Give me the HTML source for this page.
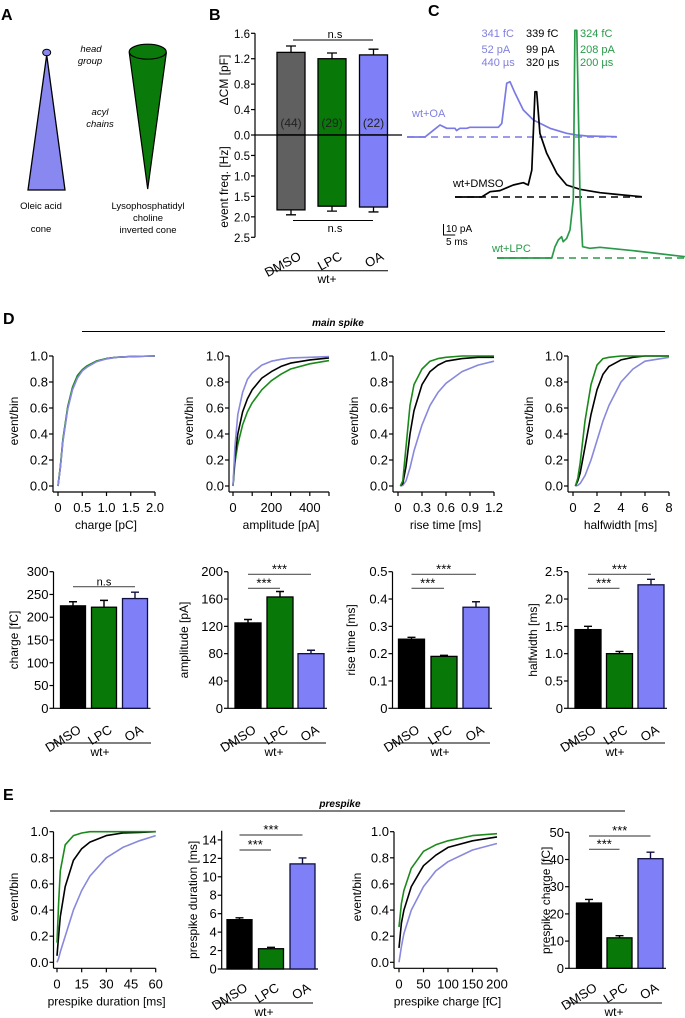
<!DOCTYPE html>
<html><head><meta charset="utf-8">
<style>
html,body{margin:0;padding:0;background:#fff;}
svg{display:block;font-family:"Liberation Sans",Arial,sans-serif;}
</style></head>
<body>
<svg id="fig" width="685" height="1018" viewBox="0 0 685 1018" xmlns="http://www.w3.org/2000/svg">
<rect x="0" y="0" width="685" height="1018" fill="#fff"/>
<!-- Panel A -->
<g>
<text x="1" y="20" font-size="16" font-weight="bold">A</text>
<polygon points="46.7,55 28,190 65,190" fill="#8888f0" stroke="#000" stroke-width="1.3"/>
<ellipse cx="46.7" cy="52.5" rx="4" ry="3.3" fill="#8888f0" stroke="#000" stroke-width="1"/>
<polygon points="129.3,53 166.3,53 147.7,189" fill="#0a7a0a" stroke="#000" stroke-width="1.2"/>
<ellipse cx="147.7" cy="51.7" rx="18.5" ry="7.5" fill="#0a7a0a" stroke="#000" stroke-width="1.2"/>
<g font-size="9.5" font-style="italic" text-anchor="middle">
<text x="91" y="52">head</text>
<text x="90" y="64">group</text>
<text x="100" y="115">acyl</text>
<text x="100" y="127">chains</text>
</g>
<g font-size="9.5" text-anchor="middle">
<text x="41" y="209">Oleic acid</text>
<text x="41" y="232">cone</text>
<text x="148" y="209">Lysophosphatidyl</text>
<text x="148" y="221">choline</text>
<text x="148" y="233">inverted cone</text>
</g>
</g>
<!-- Panel C static text -->
<g>
<text x="428" y="16" font-size="16" font-weight="bold">C</text>
<g font-size="11">
<text x="481.5" y="37" fill="#8080e0">341 fC</text>
<text x="481.5" y="53" fill="#8080e0">52 pA</text>
<text x="481.5" y="66" fill="#8080e0">440 µs</text>
<text x="526" y="37" fill="#000">339 fC</text>
<text x="526" y="53" fill="#000">99 pA</text>
<text x="526" y="66" fill="#000">320 µs</text>
<text x="580" y="37" fill="#2a9a4a">324 fC</text>
<text x="580" y="53" fill="#2a9a4a">208 pA</text>
<text x="580" y="66" fill="#2a9a4a">200 µs</text>
<text x="412" y="117" fill="#8080e0">wt+OA</text>
<text x="453" y="187" fill="#000">wt+DMSO</text>
<text x="492" y="252" fill="#2a9a4a">wt+LPC</text>
<text x="446" y="232" font-size="10">10 pA</text>
<text x="446" y="245" font-size="10">5 ms</text>
</g>
<path d="M443.5,224 L443.5,235 L455.2,235" fill="none" stroke="#000" stroke-width="1"/>
</g>
<!-- D / E headers -->
<text x="3" y="324" font-size="16" font-weight="bold">D</text>
<text x="338" y="326" font-size="10" font-weight="bold" font-style="italic" text-anchor="middle">main spike</text>
<line x1="82" y1="331.5" x2="665" y2="331.5" stroke="#000" stroke-width="1"/>
<text x="3" y="800" font-size="16" font-weight="bold">E</text>
<text x="340" y="807" font-size="10" font-weight="bold" font-style="italic" text-anchor="middle">prespike</text>
<line x1="50" y1="811" x2="625" y2="811" stroke="#000" stroke-width="1"/>
</svg>
<script>
// ---------- DATA ----------
const groups = ['DMSO','LPC','OA'];
// Panel B
const cmMean = [1.30, 1.20, 1.26];
const cmErr = [0.10, 0.09, 0.09];
const freqMean = [1.83, 1.74, 1.76];
const freqErr = [0.12, 0.12, 0.12];
const cellCounts = ['(44)','(29)','(22)'];
const cmTicks = [0, 0.4, 0.8, 1.2, 1.6];
const cmTickLabels = ['0.0','0.4','0.8','1.2','1.6'];
const freqTicks = [0.5, 1.0, 1.5, 2.0, 2.5];
const freqTickLabels = ['0.5','1.0','1.5','2.0','2.5'];
// Panel C traces (t in ms, I in pA)
const oaT = [0,7.7,10.5,14.1,17,20.5,21.2,22.6,25.5,26.9,39,40.5,42.6,44,46.2,49.7,54,61.1,68.2,72.5,76.8,89.6];
const oaI = [0,0,4.8,10.9,7.9,7.9,5.8,7.9,7.9,8.8,8.8,12.4,48.8,50.3,39.7,24.5,15.5,7.9,3.4,1.8,0.9,0.3];
const dmsoT = [0,11.4,15,19.2,24.9,29.2,31.3,32.8,34.2,34.9,36.3,39.2,43.5,47.7,53.4,62,69.1,79.8];
const dmsoI = [0,0,4.8,5.8,10.9,13,10.9,24.5,95.7,95.7,57.9,39.7,21.5,10.9,7,3.9,2.4,0.3];
const lpcT = [0,23.4,24.8,26.2,27.6,28.3,29.8,31.2,32.6,33.3,34.1,35.5,36.6,39.7,44,58.3,80.3];
const lpcI = [0,0,10.3,16.4,19.4,14.8,17.9,25.5,52.7,207,207,52.7,10.3,8.8,9.7,6.6,1.2];
// Panel D cumulative distributions
const chargeX = [0,0.05,0.1,0.2,0.3,0.4,0.5,0.6,0.8,1.0,1.2,1.5,2.0];
const chargeDMSO = [0,0.15,0.35,0.6,0.75,0.84,0.89,0.92,0.96,0.98,0.99,0.995,1.0];
const chargeLPC = [0,0.15,0.36,0.61,0.76,0.85,0.895,0.925,0.962,0.981,0.99,0.996,1.0];
const chargeOA = [0,0.14,0.34,0.59,0.74,0.83,0.885,0.915,0.957,0.978,0.99,0.995,1.0];
const ampX = [0,10,25,50,75,100,150,200,250,300,400,500];
const ampDMSO = [0,0.22,0.4,0.57,0.67,0.74,0.83,0.88,0.92,0.945,0.97,0.985];
const ampLPC = [0,0.18,0.32,0.47,0.57,0.64,0.74,0.81,0.86,0.9,0.94,0.965];
const ampOA = [0,0.3,0.55,0.72,0.82,0.87,0.93,0.96,0.975,0.985,0.99,0.995];
const riseX = [0.03,0.06,0.1,0.15,0.2,0.3,0.4,0.5,0.6,0.8,1.0,1.2];
const riseDMSO = [0,0.02,0.15,0.4,0.58,0.78,0.88,0.93,0.96,0.98,0.99,0.99];
const riseLPC = [0,0.04,0.3,0.62,0.78,0.9,0.96,0.98,0.99,1,1,1];
const riseOA = [0,0.005,0.04,0.14,0.27,0.47,0.62,0.72,0.79,0.88,0.93,0.96];
const hwX = [0.2,0.4,0.6,1,1.5,2,2.5,3,4,5,6,8];
const hwDMSO = [0,0.04,0.1,0.3,0.55,0.74,0.86,0.92,0.97,0.99,1,1];
const hwLPC = [0,0.06,0.18,0.5,0.78,0.93,0.98,0.99,1,1,1,1];
const hwOA = [0,0.005,0.02,0.08,0.2,0.35,0.5,0.62,0.8,0.9,0.96,0.99];
// Panel D bars
const chargeMean = [225,222,241];
const chargeSem = [9,15,14];
const ampMean = [125,163,80];
const ampSem = [5,8,5];
const riseMean = [0.253,0.19,0.37];
const riseSem = [0.007,0.004,0.02];
const hwMean = [1.44,1.0,2.26];
const hwSem = [0.06,0.04,0.1];
// Panel E
const durX = [0,1,2,5,10,15,20,30,40,50,60];
const durDMSO = [0.05,0.2,0.35,0.58,0.78,0.87,0.92,0.97,0.99,0.995,1];
const durLPC = [0.15,0.45,0.7,0.9,0.97,0.99,1,1,1,1,1];
const durOA = [0,0.03,0.08,0.2,0.4,0.55,0.66,0.8,0.88,0.93,0.97];
const pchX = [0,5,10,25,50,75,100,150,200];
const pchDMSO = [0.11,0.3,0.4,0.58,0.74,0.82,0.88,0.93,0.96];
const pchLPC = [0.27,0.45,0.55,0.72,0.85,0.9,0.93,0.97,0.985];
const pchOA = [0,0.12,0.22,0.4,0.58,0.7,0.77,0.86,0.91];
const durMean = [5.35,2.2,11.4];
const durSem = [0.2,0.15,0.65];
const pchMean = [24,11.2,40.3];
const pchSem = [1.3,0.8,2.4];

// ---------- HELPERS ----------
const NS = 'http://www.w3.org/2000/svg';
const svg = document.getElementById('fig');
function mk(tag, attrs, parent){
  const e = document.createElementNS(NS, tag);
  for (const k in attrs) e.setAttribute(k, attrs[k]);
  (parent || svg).appendChild(e);
  return e;
}
const CDF_COL = {DMSO:'#000', LPC:'#1a8a1a', OA:'#8888dd'};
const BAR_FILL = ['#000','#087808','#7f7ff7'];
const BAR_STROKE = ['#000','#000','#101040'];

function drawCdf(name, axX, x0, x1, xmin, xmax, yTop, yBot, xTicks, xLabels, xTitle, yTitleX, series){
  const g = mk('g', {});
  
  
  const sx = v => x0 + (v - xmin) / (xmax - xmin) * (x1 - x0);
  const sy = v => yBot - v * (yBot - yTop);
  const axY = yBot + 6;
  const ya = mk('line', {x1:axX, y1:yTop, x2:axX, y2:axY, stroke:'#000', 'stroke-width':1.2}, g);
  
  
  const xa = mk('line', {x1:axX, y1:axY, x2:x1, y2:axY, stroke:'#000', 'stroke-width':1.2}, g);
  
  
  [0,0.2,0.4,0.6,0.8,1.0].forEach(v => {
    const t = mk('line', {x1:axX-4, y1:sy(v), x2:axX, y2:sy(v), stroke:'#000', 'stroke-width':1.2}, g);
    
    
    const l = mk('text', {x:axX-5, y:sy(v)+4.5, 'font-size':13, 'text-anchor':'end'}, g);
    
    
    l.textContent = v.toFixed(1);
  });
  xTicks.forEach(v => {
    const t = mk('line', {x1:sx(v), y1:axY, x2:sx(v), y2:axY+4, stroke:'#000', 'stroke-width':1.2}, g);
    
    
  });
  xLabels.forEach(p => {
    const l = mk('text', {x:sx(p[0]), y:axY+20, 'font-size':13, 'text-anchor':'middle'}, g);
    
    
    l.textContent = p[1];
  });
  const xt = mk('text', {x:(axX+x1)/2+2, y:axY+37, 'font-size':12, 'text-anchor':'middle'}, g);
  
  
  xt.textContent = xTitle;
  const ym = (yTop + yBot) / 2;
  const yt = mk('text', {x:yTitleX, y:ym, 'font-size':12, 'text-anchor':'middle', transform:'rotate(-90 '+yTitleX+' '+ym+')', dy:'4'}, g);
  
  
  yt.textContent = 'event/bin';
  series.forEach(s => {
    const d = s.xs.map((v,i) => (i ? 'L' : 'M') + sx(v).toFixed(1) + ',' + sy(s.ys[i]).toFixed(1)).join(' ');
    const p = mk('path', {d:d, fill:'none', stroke:CDF_COL[s.key], 'stroke-width':1.6, 'stroke-linejoin':'round'}, g);
    
    
  });
}

function drawBars(name, axX, yTop0, yZero, vmax, ticks, tickLabels, centers, bw, means, sems, yTitle, yTitleX, sig, catY, wtLine, wtY){
  const g = mk('g', {});
  
  
  const sy = v => yZero - v / vmax * (yZero - yTop0);
  const ya = mk('line', {x1:axX, y1:sy(vmax), x2:axX, y2:yZero, stroke:'#000', 'stroke-width':1.2}, g);
  
  
  const xa = mk('line', {x1:axX, y1:yZero, x2:centers[2]+bw/2+3, y2:yZero, stroke:'#000', 'stroke-width':1.2}, g);
  
  
  ticks.forEach((v,i) => {
    const t = mk('line', {x1:axX-4, y1:sy(v), x2:axX, y2:sy(v), stroke:'#000', 'stroke-width':1.2}, g);
    
    
    if (tickLabels[i] !== '') {
      const l = mk('text', {x:axX-5, y:sy(v)+4.5, 'font-size':13, 'text-anchor':'end'}, g);
      
      
      l.textContent = tickLabels[i];
    }
  });
  means.forEach((m,i) => {
    const c = centers[i];
    const e = mk('path', {d:'M'+c+','+sy(m)+' V'+sy(m+sems[i])+' M'+(c-4)+','+sy(m+sems[i])+' H'+(c+4), stroke:BAR_STROKE[i], 'stroke-width':1.4, fill:'none'}, g);
    
    
    const r = mk('rect', {x:c-bw/2, y:sy(m), width:bw, height:yZero-sy(m), fill:BAR_FILL[i], stroke:BAR_STROKE[i], 'stroke-width':1.3}, g);
    
    
    const l = mk('text', {x:c+9, y:catY, 'font-size':13, 'text-anchor':'end', transform:'rotate(-32 '+(c+9)+' '+catY+')'}, g);
    
    
    l.textContent = groups[i];
  });
  sig.forEach(s => {
    const a = centers[s[0]], b = centers[s[1]];
    const ln = mk('line', {x1:a, y1:s[2], x2:b, y2:s[2], stroke:'#555', 'stroke-width':1.2}, g);
    
    
    const t = mk('text', {x:(a+b)/2, y:s[2]-1, 'font-size':s[3]==='n.s'?11:13, 'text-anchor':'middle'}, g);
    
    
    t.textContent = s[3];
  });
  const wl = mk('line', {x1:wtLine[0], y1:wtY, x2:wtLine[1], y2:wtY, stroke:'#000', 'stroke-width':1}, g);
  
  
  const wt = mk('text', {x:(wtLine[0]+wtLine[1])/2, y:wtY+13, 'font-size':12, 'text-anchor':'middle'}, g);
  
  
  wt.textContent = 'wt+';
  const ym = (yTop0 + yZero) / 2;
  const yt = mk('text', {x:yTitleX, y:ym, dy:'4', 'font-size':12, 'text-anchor':'middle', transform:'rotate(-90 '+yTitleX+' '+ym+')'}, g);
  
  
  yt.textContent = yTitle;
}

// ---------- PANEL B ----------
(function(){
  const g = mk('g', {});
  
  
  const lab = mk('text', {x:209, y:20, 'font-size':16, 'font-weight':'bold'}, g);
  
  
  lab.textContent = 'B';
  const axX = 255, y0 = 135;
  const syU = v => y0 - v / 1.6 * (135 - 33.3);
  const syD = v => y0 + v / 2.5 * (237.3 - 135);
  const centers = [291, 332, 373.5];
  const bw = 28;
  const fills = ['#606060','#087808','#7f7ff7'];
  const ya = mk('line', {x1:axX, y1:33.3, x2:axX, y2:237.3, stroke:'#000', 'stroke-width':1.2}, g);
  
  
  cmTicks.forEach((v,i) => {
    const t = mk('line', {x1:axX-4, y1:syU(v), x2:axX, y2:syU(v), stroke:'#000', 'stroke-width':1.2}, g);
    
    
    const l = mk('text', {x:axX-5, y:syU(v)+4.5, 'font-size':11.5, 'text-anchor':'end'}, g);
    
    
    l.textContent = cmTickLabels[i];
  });
  freqTicks.forEach((v,i) => {
    const t = mk('line', {x1:axX-4, y1:syD(v), x2:axX, y2:syD(v), stroke:'#000', 'stroke-width':1.2}, g);
    
    
    const l = mk('text', {x:axX-5, y:syD(v)+4.5, 'font-size':11.5, 'text-anchor':'end'}, g);
    
    
    l.textContent = freqTickLabels[i];
  });
  groups.forEach((gname,i) => {
    const c = centers[i];
    const e1 = mk('path', {d:'M'+c+','+syU(cmMean[i])+' V'+syU(cmMean[i]+cmErr[i])+' M'+(c-5)+','+syU(cmMean[i]+cmErr[i])+' H'+(c+5), stroke:'#000', 'stroke-width':1.3, fill:'none'}, g);
    
    
    const e2 = mk('path', {d:'M'+c+','+syD(freqMean[i])+' V'+syD(freqMean[i]+freqErr[i])+' M'+(c-5)+','+syD(freqMean[i]+freqErr[i])+' H'+(c+5), stroke:'#000', 'stroke-width':1.3, fill:'none'}, g);
    
    
    const r1 = mk('rect', {x:c-bw/2, y:syU(cmMean[i]), width:bw, height:y0-syU(cmMean[i]), fill:fills[i], stroke:'#000', 'stroke-width':1.3}, g);
    
    
    const r2 = mk('rect', {x:c-bw/2, y:y0, width:bw, height:syD(freqMean[i])-y0, fill:fills[i], stroke:'#000', 'stroke-width':1.3}, g);
    
    
    const n = mk('text', {x:c, y:127, 'font-size':12, 'text-anchor':'middle', fill:'#222'}, g);
    
    
    n.textContent = cellCounts[i];
    const cl = mk('text', {x:c+11, y:259, 'font-size':13, 'text-anchor':'end', transform:'rotate(-28 '+(c+11)+' 259)'}, g);
    
    
    cl.textContent = gname;
  });
  const zl = mk('line', {x1:axX, y1:y0, x2:402, y2:y0, stroke:'#000', 'stroke-width':1.2}, g);
  
  
  const s1 = mk('line', {x1:293, y1:40, x2:373, y2:40, stroke:'#000', 'stroke-width':1}, g);
  
  
  const t1 = mk('text', {x:335, y:38, 'font-size':11, 'text-anchor':'middle'}, g);
  
  
  t1.textContent = 'n.s';
  const s2 = mk('line', {x1:293, y1:220.5, x2:373, y2:220.5, stroke:'#000', 'stroke-width':1}, g);
  
  
  const t2 = mk('text', {x:335, y:232, 'font-size':11, 'text-anchor':'middle'}, g);
  
  
  t2.textContent = 'n.s';
  const wl = mk('line', {x1:267, y1:270.7, x2:388, y2:270.7, stroke:'#000', 'stroke-width':1}, g);
  
  
  const wt = mk('text', {x:327, y:283, 'font-size':12, 'text-anchor':'middle'}, g);
  
  
  wt.textContent = 'wt+';
  const y1 = mk('text', {x:224, y:80, dy:'4', 'font-size':12, 'text-anchor':'middle', transform:'rotate(-90 224 80)'}, g);
  
  
  y1.textContent = '\u0394CM [pF]';
  const y2 = mk('text', {x:224, y:187, dy:'4', 'font-size':12, 'text-anchor':'middle', transform:'rotate(-90 224 187)'}, g);
  
  
  y2.textContent = 'event freq. [Hz]';
})();

// ---------- PANEL C traces ----------
(function(){
  const PX_MS = 2.34, PX_PA = 1.1;
  const traces = [
    {key:'oa', t:oaT, i:oaI, x0:407, base:137, end:617, col:'#7a7ae6'},
    {key:'dmso', t:dmsoT, i:dmsoI, x0:455, base:197, end:642, col:'#000'},
    {key:'lpc', t:lpcT, i:lpcI, x0:497, base:258, end:685, col:'#2a9a4a'}
  ];
  traces.forEach(tr => {
    const b = mk('line', {x1:tr.x0, y1:tr.base, x2:tr.end, y2:tr.base, stroke:tr.col, 'stroke-width':1.6, 'stroke-dasharray':'7,5'});
    
    
    const d = tr.t.map((t,k) => (k ? 'L' : 'M') + (tr.x0 + t*PX_MS).toFixed(1) + ',' + (tr.base - tr.i[k]*PX_PA).toFixed(1)).join(' ');
    const p = mk('path', {d:d, fill:'none', stroke:tr.col, 'stroke-width':1.7, 'stroke-linejoin':'round'});
    
    
  });
})();

// ---------- PANEL D ----------
drawCdf('cdf-charge', 53, 58, 155, 0, 2, 356, 486, [0,0.5,1,1.5,2], [[0,'0'],[0.5,'0.5'],[1,'1.0'],[1.5,'1.5'],[2,'2.0']], 'charge [pC]', 14,
  [{key:'DMSO', xs:chargeX, ys:chargeDMSO},{key:'LPC', xs:chargeX, ys:chargeLPC},{key:'OA', xs:chargeX, ys:chargeOA}]);
drawCdf('cdf-amplitude', 229, 233, 329, 0, 500, 356, 486, [0,100,200,300,400,500], [[0,'0'],[200,'200'],[400,'400']], 'amplitude [pA]', 189,
  [{key:'LPC', xs:ampX, ys:ampLPC},{key:'DMSO', xs:ampX, ys:ampDMSO},{key:'OA', xs:ampX, ys:ampOA}]);
drawCdf('cdf-risetime', 393, 398, 494, 0, 1.2, 356, 486, [0,0.3,0.6,0.9,1.2], [[0,'0'],[0.3,'0.3'],[0.6,'0.6'],[0.9,'0.9'],[1.2,'1.2']], 'rise time [ms]', 354,
  [{key:'OA', xs:riseX, ys:riseOA},{key:'DMSO', xs:riseX, ys:riseDMSO},{key:'LPC', xs:riseX, ys:riseLPC}]);
drawCdf('cdf-halfwidth', 568, 573, 669, 0, 8, 356, 486, [0,2,4,6,8], [[0,'0'],[2,'2'],[4,'4'],[6,'6'],[8,'8']], 'halfwidth [ms]', 529,
  [{key:'OA', xs:hwX, ys:hwOA},{key:'DMSO', xs:hwX, ys:hwDMSO},{key:'LPC', xs:hwX, ys:hwLPC}]);

drawBars('bars-charge', 53.5, 571.7, 708.3, 300, [0,50,100,150,200,250,300], ['0','50','100','150','200','250','300'], [73,104,135], 25, chargeMean, chargeSem, 'charge [fC]', 14, [[0,2,586.7,'n.s']], 732, [49,151], 743);
drawBars('bars-amplitude', 228, 571.7, 708.3, 200, [0,40,80,120,160,200], ['0','40','80','120','160','200'], [248,280,311], 26, ampMean, ampSem, 'amplitude [pA]', 184, [[0,2,574.3,'***'],[0,1,588.3,'***']], 732, [222,326], 743);
drawBars('bars-risetime', 392.5, 571.7, 708.3, 0.5, [0,0.1,0.2,0.3,0.4,0.5], ['0','0.1','0.2','0.3','0.4','0.5'], [411.5,444,476], 26, riseMean, riseSem, 'rise time [ms]', 351, [[0,2,574.3,'***'],[0,1,588.3,'***']], 732, [390,490], 743);
drawBars('bars-halfwidth', 568, 571.7, 708.3, 2.5, [0,0.5,1,1.5,2,2.5], ['0','0.5','1.0','1.5','2.0','2.5'], [588,619.5,651], 26, hwMean, hwSem, 'halfwidth [ms]', 533, [[0,2,574.3,'***'],[0,1,588.3,'***']], 732, [565,665], 743);

// ---------- PANEL E ----------
drawCdf('cdf-prespike-duration', 53.5, 57, 155.7, 0, 60, 831.7, 962.3, [0,15,30,45,60], [[0,'0'],[15,'15'],[30,'30'],[45,'45'],[60,'60']], 'prespike duration [ms]', 14,
  [{key:'OA', xs:durX, ys:durOA},{key:'DMSO', xs:durX, ys:durDMSO},{key:'LPC', xs:durX, ys:durLPC}]);
drawCdf('cdf-prespike-charge', 394, 399, 497, 0, 200, 831.7, 962.3, [0,50,100,150,200], [[0,'0'],[50,'50'],[100,'100'],[150,'150'],[200,'200']], 'prespike charge [fC]', 357,
  [{key:'OA', xs:pchX, ys:pchOA},{key:'DMSO', xs:pchX, ys:pchDMSO},{key:'LPC', xs:pchX, ys:pchLPC}]);
drawBars('bars-prespike-duration', 221.7, 830.7, 969, 15, [0,2,4,6,8,10,12,14], ['0','2','4','6','8','10','12','14'], [239.5,271,302.5], 25, durMean, durSem, 'prespike duration [ms]', 193, [[0,2,835,'***'],[0,1,850,'***']], 990, [215,313], 1003);
drawBars('bars-prespike-charge', 569, 832.3, 968.3, 50, [0,10,20,30,40,50], ['0','10','20','30','40','50'], [589,619.5,650.5], 25, pchMean, pchSem, 'prespike charge [fC]', 546, [[0,2,836,'***'],[0,1,849.3,'***']], 990, [566,662], 1003);
</script>
</body></html>
